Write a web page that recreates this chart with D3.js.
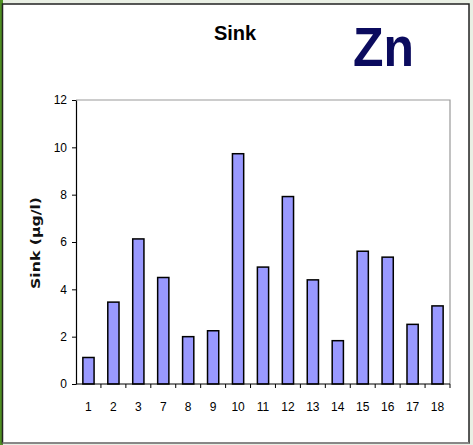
<!DOCTYPE html>
<html><head><meta charset="utf-8">
<script src="https://cdn.jsdelivr.net/npm/d3@7"></script>
<style>html,body{margin:0;padding:0;background:#e9efe4;overflow:hidden}</style>
</head><body>
<script>
const categories = ["1","2","3","7","8","9","10","11","12","13","14","15","16","17","18"];
const values = [1.12, 3.46, 6.13, 4.50, 2.00, 2.25, 9.73, 4.94, 7.92, 4.40, 1.83, 5.61, 5.36, 2.52, 3.30];
const yTicks = [0, 2, 4, 6, 8, 10, 12];
const title = "Sink";
const element = "Zn";
const yLabel = "Sink (µg/l)";

const W = 473, H = 445;
const svg = d3.select("body").append("svg").attr("width", W).attr("height", H);

// background & frame
svg.append("rect").attr("x",0).attr("y",0).attr("width",3).attr("height",H).attr("fill","#4e8f22");
svg.append("rect").attr("x",2.5).attr("y",4).attr("width",466.5).attr("height",439)
  .attr("fill","#fff").attr("stroke","#222").attr("stroke-width",1.5);
svg.append("line").attr("x1",2.5).attr("x2",469).attr("y1",443).attr("y2",443).attr("stroke","#999").attr("stroke-width",1.5);

const m = {left:76, right:450, top:100, bottom:384};
const x = d3.scaleBand().domain(categories).range([m.left, m.right]).paddingInner(0.55).paddingOuter(0.275);
const xb = d3.scaleBand().domain(categories).range([m.left, m.right]);
const y = d3.scaleLinear().domain([0, 12]).range([m.bottom, m.top]);

// plot area border (top, right)
svg.append("path").attr("d", `M${m.left},${m.top}H${m.right}V${m.bottom}`).attr("fill","none").attr("stroke","#999").attr("stroke-width",1.2);

// bars
svg.append("g").selectAll("rect").data(values).join("rect")
  .attr("x", (d,i) => x(categories[i]))
  .attr("width", x.bandwidth())
  .attr("y", d => y(d))
  .attr("height", d => y(0) - y(d))
  .attr("fill", "#9999ff").attr("stroke","#000").attr("stroke-width",1.5);

// y axis
const ya = svg.append("g").attr("transform", `translate(${m.left},0)`)
  .call(d3.axisLeft(y).tickValues(yTicks).tickSize(4).tickPadding(5).tickSizeOuter(0));
ya.select(".domain").attr("stroke","#000").attr("stroke-width",1.2);
ya.selectAll(".tick line").attr("stroke","#000");
ya.selectAll("text").attr("font-family","Arial, 'Liberation Sans', sans-serif").attr("font-size",12).attr("fill","#000");

// x axis: ticks at band boundaries
const xa = svg.append("g").attr("transform", `translate(0,${m.bottom})`);
xa.append("line").attr("x1",m.left).attr("x2",m.right).attr("stroke","#000").attr("stroke-width",1.2);
xa.selectAll("line.t").data(categories).join("line").attr("class","t")
  .attr("x1", d => xb(d) + xb.bandwidth()).attr("x2", d => xb(d) + xb.bandwidth())
  .attr("y1",0).attr("y2",4).attr("stroke","#000");
xa.selectAll("text").data(categories).join("text")
  .attr("x", d => xb(d) + xb.bandwidth()/2).attr("y", 27)
  .attr("text-anchor","middle")
  .attr("font-family","Arial, 'Liberation Sans', sans-serif").attr("font-size",12).attr("fill","#000")
  .text(d => d);

// titles
svg.append("text").attr("x",235).attr("y",40).attr("text-anchor","middle")
  .attr("font-family","Arial, 'Liberation Sans', sans-serif").attr("font-weight","bold").attr("font-size",20)
  .text(title);
svg.append("text").attr("x",353).attr("y",66)
  .attr("font-family","Arial, 'Liberation Sans', sans-serif").attr("font-weight","bold").attr("font-size",55)
  .attr("fill","#0b0b5e").attr("textLength",61).attr("lengthAdjust","spacingAndGlyphs")
  .text(element);

// y label
svg.append("text").attr("transform","translate(40,243) rotate(-90)").attr("text-anchor","middle")
  .attr("font-family","'DejaVu Sans', Arial, sans-serif").attr("font-weight","bold").attr("font-size",12)
  .attr("fill","#111").attr("textLength",92).attr("lengthAdjust","spacingAndGlyphs")
  .text(yLabel);
</script>
</body></html>
